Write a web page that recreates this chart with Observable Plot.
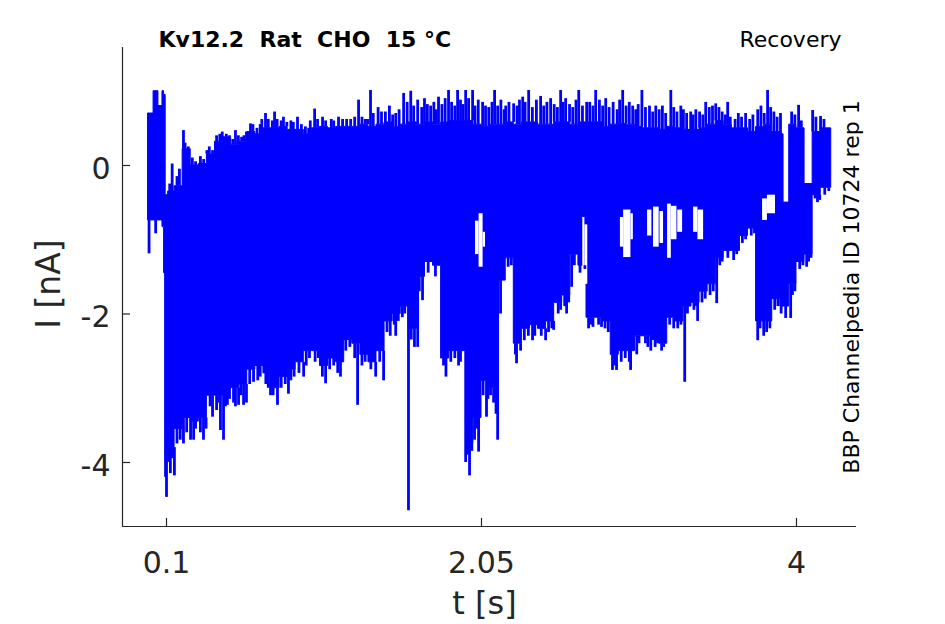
<!DOCTYPE html>
<html>
<head>
<meta charset="utf-8">
<script src="https://cdn.jsdelivr.net/npm/d3@7"></script>
<script src="https://cdn.jsdelivr.net/npm/@observablehq/plot@0.6"></script>
<style>
  html, body { margin: 0; padding: 0; background: white; }
</style>
</head>
<body>
<div id="chart"></div>
<script>
// ---- Texts ----
const titleText = "Kv12.2\u00a0\u00a0Rat\u00a0\u00a0CHO\u00a0\u00a015\u00a0°C";
const protocolText = "Recovery";
const sideText = "BBP Channelpedia ID 10724 rep 1";
const xLabel = "t [s]";
const yLabel = "I [nA]";

// ---- Axes ----
const xDomain = [-0.1724, 4.3715];
const yDomain = [-4.862, 1.589];
const xTicks = [0.1, 2.05, 4];
const xTickLabels = ["0.1", "2.05", "4"];
const yTicks = [0, -2, -4];
const yTickLabels = ["0", "-2", "-4"];

// ---- Trace envelope (time in s, current in nA) ----
const coreT = [-0.012, 0.02, 0.05, 0.075, 0.085, 0.095, 0.11, 0.15, 0.20, 0.25, 0.30, 0.35, 0.40, 0.45, 0.50, 0.55, 0.60, 0.65, 0.70, 0.75, 0.80, 0.85, 0.90, 0.95, 1.00, 1.05, 1.10, 1.15, 1.20, 1.25, 1.30, 1.35, 1.40, 1.45, 1.50, 1.55, 1.60, 1.65, 1.70, 1.75, 1.80, 1.85, 1.90, 1.95, 2.00, 2.05, 2.10, 2.15, 2.20, 2.25, 2.30, 2.35, 2.40, 2.45, 2.50, 2.55, 2.60, 2.65, 2.70, 2.75, 2.80, 2.85, 2.90, 2.95, 3.00, 3.05, 3.10, 3.15, 3.20, 3.25, 3.30, 3.35, 3.40, 3.45, 3.50, 3.55, 3.60, 3.65, 3.70, 3.75, 3.80, 3.85, 3.90, 3.92, 3.955, 4.00, 4.05, 4.10, 4.15, 4.215];
const coreHi = [0.70, 1.00, 0.80, 1.00, 0.95, -0.40, -0.35, -0.28, 0.22, 0.00, 0.02, 0.15, 0.32, 0.38, 0.28, 0.32, 0.45, 0.42, 0.50, 0.50, 0.52, 0.48, 0.48, 0.42, 0.50, 0.52, 0.50, 0.52, 0.52, 0.52, 0.55, 0.52, 0.55, 0.58, 0.52, 0.55, 0.58, 0.55, 0.58, 0.55, 0.58, 0.60, 0.60, 0.60, 0.55, 0.52, 0.55, 0.55, 0.58, 0.55, 0.58, 0.58, 0.55, 0.55, 0.58, 0.58, 0.55, 0.58, 0.58, 0.58, 0.52, 0.55, 0.56, 0.55, 0.52, 0.50, 0.50, 0.48, 0.52, 0.50, 0.48, 0.48, 0.50, 0.55, 0.60, 0.55, 0.50, 0.50, 0.45, 0.52, 0.55, 0.45, 0.42, -0.50, 0.55, 0.50, -0.25, 0.45, 0.50, 0.50];
const coreLo = [-0.74, -0.74, -0.74, -0.83, -1.45, -4.00, -3.80, -3.55, -3.40, -3.45, -3.40, -3.10, -3.10, -3.00, -3.00, -2.95, -2.75, -2.70, -2.80, -3.00, -2.85, -2.75, -2.65, -2.50, -2.50, -2.70, -2.60, -2.65, -2.35, -2.40, -2.55, -2.65, -2.50, -2.10, -2.00, -1.90, -2.20, -1.50, -1.30, -1.35, -2.60, -2.50, -2.50, -3.75, -3.40, -2.90, -3.00, -1.55, -1.25, -2.40, -2.20, -2.15, -2.20, -2.10, -1.85, -1.75, -1.20, -1.35, -2.05, -2.05, -2.10, -2.55, -2.50, -2.50, -2.30, -2.30, -2.35, -2.40, -2.05, -2.10, -1.90, -1.85, -1.70, -1.60, -1.25, -1.15, -1.15, -0.95, -0.85, -2.10, -2.10, -1.80, -1.90, -1.90, -1.60, -1.30, -1.20, -0.40, -0.30, -0.30];

// ---- Gaps inside the trace (ranges the sweeps did not visit) ----
const gapT1 = [2.013, 2.035, 2.060, 2.677, 2.690, 2.910, 2.930, 2.975, 3.078, 3.115, 3.155, 3.202, 3.225, 3.265, 3.363, 3.390, 3.790, 3.820];
const gapT2 = [2.035, 2.060, 2.075, 2.690, 2.708, 2.930, 2.975, 2.990, 3.105, 3.150, 3.177, 3.225, 3.260, 3.295, 3.390, 3.425, 3.820, 3.870];
const gapTop = [-0.75, -0.65, -0.90, -0.70, -0.80, -0.70, -0.60, -0.65, -0.60, -0.56, -0.62, -0.52, -0.55, -0.60, -0.56, -0.60, -0.45, -0.40];
const gapBottom = [-1.20, -1.37, -1.10, -1.50, -1.60, -1.10, -1.24, -1.00, -0.95, -1.10, -1.05, -1.25, -1.00, -0.90, -0.90, -1.00, -0.74, -0.65];

// ---- Narrow peaks above and below the envelope ----
const upT = [0.12, 0.135, 0.165, 0.18, 0.205, 0.215, 0.235, 0.26, 0.28, 0.31, 0.33, 0.35, 0.365, 0.385, 0.41, 0.43, 0.445, 0.47, 0.49, 0.51, 0.527, 0.545, 0.565, 0.58, 0.595, 0.620, 0.635, 0.66, 0.68, 0.69, 0.713, 0.73, 0.755, 0.769, 0.785, 0.81, 0.824, 0.845, 0.87, 0.885, 0.911, 0.935, 0.96, 0.98, 0.99, 1.017, 1.035, 1.066, 1.085, 1.12, 1.135, 1.165, 1.190, 1.215, 1.24, 1.265, 1.289, 1.31, 1.33, 1.345, 1.363, 1.38, 1.41, 1.431, 1.455, 1.48, 1.50, 1.519, 1.54, 1.568, 1.59, 1.612, 1.63, 1.655, 1.68, 1.697, 1.715, 1.735, 1.755, 1.77, 1.784, 1.805, 1.825, 1.846, 1.865, 1.885, 1.902, 1.92, 1.935, 1.952, 1.97, 1.995, 2.01, 2.03, 2.057, 2.075, 2.095, 2.115, 2.131, 2.15, 2.17, 2.19, 2.200, 2.22, 2.249, 2.27, 2.285, 2.305, 2.32, 2.342, 2.365, 2.39, 2.416, 2.435, 2.455, 2.478, 2.50, 2.52, 2.540, 2.555, 2.571, 2.595, 2.615, 2.635, 2.652, 2.675, 2.701, 2.72, 2.74, 2.757, 2.78, 2.80, 2.819, 2.84, 2.865, 2.89, 2.905, 2.924, 2.945, 2.965, 2.986, 3.005, 3.02, 3.043, 3.065, 3.09, 3.11, 3.129, 3.15, 3.17, 3.19, 3.222, 3.24, 3.26, 3.284, 3.30, 3.32, 3.345, 3.36, 3.377, 3.40, 3.42, 3.438, 3.46, 3.48, 3.500, 3.52, 3.54, 3.56, 3.574, 3.59, 3.62, 3.64, 3.66, 3.685, 3.71, 3.73, 3.76, 3.78, 3.80, 3.821, 3.84, 3.86, 3.88, 3.901, 3.97, 3.99, 4.013, 4.03, 4.100, 4.12, 4.149, 4.17, 4.19];
const upV = [-0.25, 0.02, -0.15, -0.05, 0.47, 0.30, 0.25, 0.10, 0.05, 0.12, 0.08, 0.20, 0.25, 0.20, 0.40, 0.42, 0.45, 0.42, 0.40, 0.35, 0.47, 0.40, 0.38, 0.40, 0.45, 0.56, 0.55, 0.50, 0.55, 0.62, 0.70, 0.62, 0.60, 0.72, 0.62, 0.60, 0.65, 0.58, 0.60, 0.58, 0.65, 0.55, 0.52, 0.50, 0.60, 0.76, 0.62, 0.65, 0.60, 0.62, 0.60, 0.65, 0.62, 0.62, 0.62, 0.65, 0.88, 0.65, 0.62, 0.62, 1.01, 0.70, 0.78, 0.72, 0.72, 0.80, 0.68, 0.70, 0.75, 0.97, 0.85, 1.00, 0.80, 0.88, 0.78, 0.90, 0.82, 0.80, 0.85, 0.75, 0.92, 0.82, 0.90, 1.01, 0.85, 0.80, 1.01, 0.88, 0.82, 1.01, 0.90, 1.01, 0.80, 0.88, 0.85, 0.80, 0.78, 0.85, 1.01, 0.80, 0.88, 0.75, 0.80, 0.85, 0.83, 0.80, 0.88, 0.92, 0.85, 1.01, 0.78, 0.88, 0.93, 0.80, 0.85, 0.90, 0.82, 0.78, 1.01, 0.85, 0.90, 0.82, 0.78, 0.88, 1.01, 0.80, 0.85, 0.85, 0.80, 1.01, 0.88, 0.80, 0.90, 0.78, 0.85, 0.75, 0.88, 1.01, 0.80, 0.85, 0.80, 0.75, 0.82, 1.01, 0.78, 0.80, 0.72, 0.80, 0.75, 0.80, 0.70, 1.01, 0.78, 0.72, 0.80, 0.75, 0.70, 0.72, 0.68, 0.75, 0.72, 0.68, 0.85, 0.78, 0.80, 0.83, 0.78, 0.72, 0.68, 0.85, 0.65, 0.62, 0.70, 0.65, 0.70, 0.62, 0.68, 0.75, 0.80, 0.70, 1.01, 0.78, 0.72, 0.65, 0.70, 0.72, 0.68, 0.81, 0.60, 0.74, 0.65, 0.66, 0.62, 0.50];
const downT = [-0.008, 0.033, 0.094, 0.100, 0.115, 0.124, 0.135, 0.149, 0.165, 0.185, 0.205, 0.225, 0.249, 0.268, 0.28, 0.31, 0.329, 0.345, 0.37, 0.385, 0.41, 0.42, 0.434, 0.453, 0.465, 0.477, 0.49, 0.515, 0.527, 0.546, 0.56, 0.577, 0.595, 0.615, 0.639, 0.665, 0.68, 0.715, 0.73, 0.744, 0.76, 0.787, 0.81, 0.835, 0.855, 0.87, 0.89, 0.92, 0.949, 0.965, 0.985, 1.02, 1.04, 1.065, 1.085, 1.11, 1.135, 1.16, 1.177, 1.21, 1.235, 1.265, 1.283, 1.31, 1.33, 1.365, 1.395, 1.42, 1.444, 1.465, 1.485, 1.51, 1.519, 1.535, 1.56, 1.575, 1.598, 1.615, 1.635, 1.655, 1.665, 1.685, 1.72, 1.765, 1.815, 1.83, 1.86, 1.885, 1.908, 1.92, 1.952, 1.965, 1.976, 1.99, 2.007, 2.02, 2.032, 2.06, 2.081, 2.09, 2.106, 2.125, 2.14, 2.150, 2.168, 2.185, 2.215, 2.235, 2.26, 2.267, 2.292, 2.315, 2.34, 2.366, 2.38, 2.42, 2.447, 2.465, 2.485, 2.497, 2.525, 2.54, 2.565, 2.577, 2.59, 2.608, 2.625, 2.66, 2.69, 2.713, 2.725, 2.74, 2.775, 2.793, 2.815, 2.835, 2.861, 2.875, 2.886, 2.915, 2.94, 2.965, 2.973, 3.011, 3.025, 3.065, 3.08, 3.098, 3.125, 3.14, 3.165, 3.178, 3.215, 3.24, 3.265, 3.285, 3.308, 3.325, 3.365, 3.38, 3.388, 3.415, 3.435, 3.465, 3.485, 3.506, 3.525, 3.54, 3.575, 3.611, 3.63, 3.665, 3.685, 3.72, 3.74, 3.760, 3.775, 3.797, 3.815, 3.835, 3.865, 3.885, 3.905, 3.933, 3.964, 3.975, 3.99, 4.02, 4.04, 4.063, 4.075, 4.09, 4.115, 4.13, 4.144, 4.175, 4.2];
const downV = [-1.19, -0.92, -4.20, -4.47, -4.00, -4.15, -3.95, -4.18, -3.75, -3.70, -3.75, -3.60, -3.70, -3.70, -3.55, -3.60, -3.70, -3.55, -3.25, -3.39, -3.30, -3.20, -3.57, -3.70, -3.25, -3.23, -3.15, -3.20, -3.25, -3.23, -3.10, -3.23, -3.20, -2.95, -2.92, -2.90, -2.85, -2.95, -3.00, -3.10, -3.10, -3.23, -3.00, -2.95, -3.08, -2.90, -2.85, -2.80, -2.85, -2.70, -2.60, -2.65, -2.60, -2.85, -2.94, -2.75, -2.70, -2.80, -2.85, -2.50, -2.45, -2.60, -3.23, -2.70, -2.65, -2.75, -2.85, -2.65, -2.90, -2.25, -2.30, -2.15, -2.30, -2.10, -2.05, -2.00, -4.65, -2.35, -2.45, -2.45, -1.70, -1.82, -1.45, -1.50, -2.70, -2.85, -2.65, -2.60, -2.70, -2.65, -4.00, -3.90, -4.18, -3.85, -3.70, -3.55, -3.86, -3.10, -3.39, -3.15, -3.10, -3.20, -3.35, -3.70, -2.00, -1.40, -1.37, -1.35, -2.55, -2.67, -2.50, -2.36, -2.30, -2.36, -2.30, -2.30, -2.36, -2.25, -2.20, -2.22, -2.00, -1.95, -1.90, -2.00, -1.85, -1.64, -1.35, -1.45, -1.40, -2.20, -2.15, -2.18, -2.15, -2.18, -2.20, -2.25, -2.76, -2.70, -2.76, -2.65, -2.60, -2.65, -2.76, -2.55, -2.40, -2.40, -2.45, -2.50, -2.45, -2.40, -2.50, -2.45, -2.15, -2.20, -2.20, -2.15, -2.92, -2.00, -1.95, -1.90, -2.10, -1.85, -1.80, -1.75, -1.70, -1.86, -1.35, -1.30, -1.25, -1.28, -1.20, -1.05, -1.00, -0.95, -0.92, -2.36, -2.20, -2.30, -2.25, -2.20, -1.95, -1.90, -2.00, -2.06, -2.06, -1.75, -1.70, -1.40, -1.35, -1.37, -1.30, -1.25, -0.45, -0.50, -0.47, -0.40, -0.35];

// ---- Tables built from the arrays ----
const core = coreT.map((t, i) => ({t, hi: coreHi[i], lo: coreLo[i]}));
const gaps = gapT1.map((t1, i) => ({t1, t2: gapT2[i], top: gapTop[i], bottom: gapBottom[i]}));
const colIndex = t => Math.max(0, d3.bisectRight(coreT, t) - 1);
const peaks = [
  ...upT.map((t, i) => ({t, v: upV[i], base: coreHi[colIndex(t)]})),
  ...downT.map((t, i) => ({t, v: downV[i], base: coreLo[colIndex(t)]}))
];

const BLUE = "#0000ff";
const INK = "#262626";
const W = 945, H = 624, ML = 122, MR = 89, MT = 47, MB = 98;
const FW = W - ML - MR, FH = H - MT - MB;

const chart = Plot.plot({
  width: W,
  height: H,
  marginLeft: ML,
  marginRight: MR,
  marginTop: MT,
  marginBottom: MB,
  style: {fontFamily: "'DejaVu Sans', sans-serif", background: "white", color: INK, overflow: "visible"},
  x: {domain: xDomain},
  y: {domain: yDomain},
  marks: [
    Plot.areaY(core, {x: "t", y1: "lo", y2: "hi", curve: "step-after", fill: BLUE, stroke: BLUE, strokeWidth: 1}),
    Plot.rect(gaps, {x1: "t1", x2: "t2", y1: "bottom", y2: "top", fill: "white"}),
    Plot.ruleX(peaks, {x: "t", y1: "base", y2: "v", stroke: BLUE, strokeWidth: 2.8}),
    // axis lines
    Plot.ruleX([xDomain[0]], {stroke: INK, strokeWidth: 1.2}),
    Plot.ruleY([yDomain[0]], {stroke: INK, strokeWidth: 1.2}),
    // inward ticks
    Plot.ruleX(xTicks, {x: d => d, insetTop: FH - 8, stroke: INK, strokeWidth: 1.2}),
    Plot.ruleY(yTicks, {y: d => d, insetRight: FW - 8, stroke: INK, strokeWidth: 1.2}),
    // tick labels
    Plot.axisX(xTicks, {tickSize: 0, tickPadding: 25, fontSize: 30, label: null,
      tickFormat: d => xTickLabels[xTicks.indexOf(d)], fill: INK}),
    Plot.axisY(yTicks, {tickSize: 0, tickPadding: 12, dy: 3.5, fontSize: 30, label: null,
      tickFormat: d => yTickLabels[yTicks.indexOf(d)], fill: INK}),
    // axis labels
    Plot.text([xLabel], {text: d => d, frameAnchor: "bottom", textAnchor: "middle", lineAnchor: "bottom", dy: 87, dx: -5, fontSize: 32, fill: INK}),
    Plot.text([yLabel], {text: d => d, frameAnchor: "left", textAnchor: "middle", lineAnchor: "bottom", rotate: -90, dx: -63, dy: -3, fontSize: 33, fill: INK}),
    // title and annotations
    Plot.text([titleText], {text: d => d, frameAnchor: "top-left", textAnchor: "start", lineAnchor: "bottom", dx: 36, dy: -1, fontSize: 22, fontWeight: "bold", fill: "black"}),
    Plot.text([protocolText], {text: d => d, frameAnchor: "top-right", textAnchor: "end", lineAnchor: "bottom", dx: -15, dy: -1, fontSize: 22, fill: "black"}),
    Plot.text([sideText], {text: d => d, frameAnchor: "right", textAnchor: "middle", lineAnchor: "bottom", rotate: -90, dx: 2, fontSize: 22, fill: "black"})
  ]
});
document.getElementById("chart").appendChild(chart);
</script>
</body>
</html>
